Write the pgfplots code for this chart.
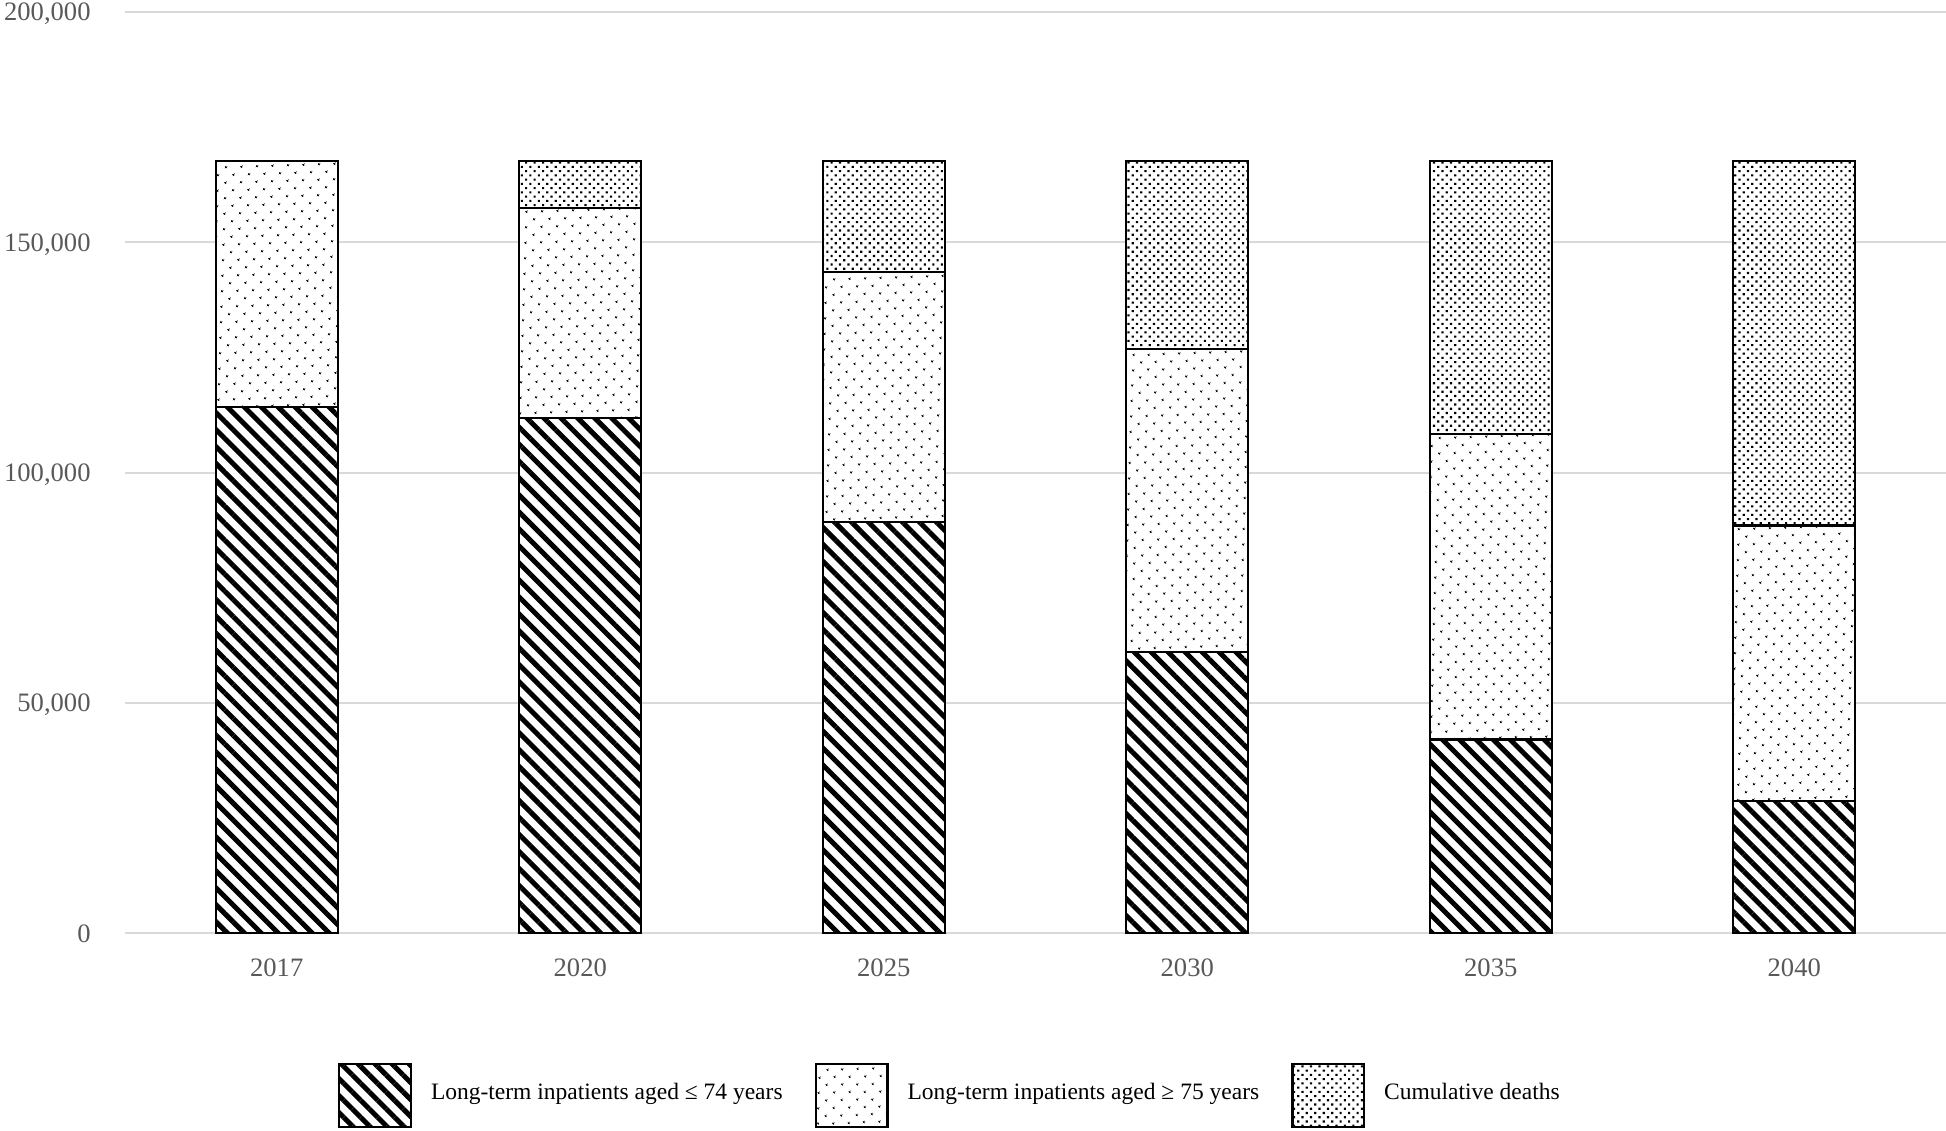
\documentclass[border=0pt]{standalone}
\usepackage{pgfplots}
\pgfplotsset{compat=1.18}
\usepackage{fontspec}
\setmainfont{Liberation Serif}
\usetikzlibrary{patterns.meta}
\definecolor{gridc}{HTML}{D9D9D9}
\definecolor{tickc}{HTML}{595959}
\begin{document}
\begin{tikzpicture}
\useasboundingbox (0,0) rectangle (973pt,565pt);
\begin{axis}[
  at={(62.5pt,98.5pt)}, anchor=south west,
  scale only axis, width=910.5pt, height=460.5pt,
  ybar stacked, bar width=61pt,
  xmin=-0.5, xmax=5.5, ymin=0, ymax=200000,
  xtick={0,1,2,3,4,5},
  xticklabels={2017,2020,2025,2030,2035,2040},
  ytick={0,50000,100000,150000,200000},
  scaled y ticks=false,
  /pgf/number format/.cd, fixed, 1000 sep={,}, assume math mode=true,
  /pgfplots/.cd,
  tick label style={font=\fontsize{13.3pt}{15pt}\selectfont, text=tickc, inner sep=0pt},
  yticklabel style={anchor=base east, xshift=-17pt, yshift=-4.5pt},
  xticklabel style={anchor=north, yshift=-12.5pt},
  major tick length=0pt,
  axis line style={draw=none},
  ymajorgrids, grid style={draw=gridc, line width=1pt},
  legend columns=3,
  legend style={at={(axis description cs:0.11697,-0.17644)}, anchor=west,
    draw=none, fill=none, inner sep=0pt, outer sep=0pt,
    font=\fontsize{11.75pt}{14pt}\selectfont,
    nodes={inner sep=0pt},
    cells={anchor=base west},
    /tikz/every odd column/.append style={column sep=9.5pt},
    /tikz/every even column/.append style={column sep=16pt}},
  legend image code/.code={\draw[#1, line width=1.2pt] (0.6pt,-13.65pt) rectangle (36.4pt,17.65pt);},
]
\addplot[draw=black, line width=1.2pt, fill=white, postaction={pattern={Lines[angle=-45,distance=6pt,line width=2.5pt]}}]
  coordinates {(0,114200) (1,111800) (2,89200) (3,61000) (4,42000) (5,28700)};
\addlegendentry{Long-term inpatients aged ≤ 74 years}
\addplot[draw=black, line width=1.2pt, fill=white, postaction={pattern={Dots[angle=45,distance=5.4pt,radius=0.65pt]}}]
  coordinates {(0,53400) (1,45700) (2,54400) (3,65800) (4,66300) (5,59800)};
\addlegendentry{Long-term inpatients aged ≥ 75 years}
\addplot[draw=black, line width=1.2pt, fill=white, postaction={pattern={Dots[angle=45,distance=3pt,radius=0.75pt]}}]
  coordinates {(0,0) (1,10100) (2,24000) (3,40800) (4,59300) (5,79100)};
\addlegendentry{Cumulative deaths}
\end{axis}
\end{tikzpicture}
\end{document}
